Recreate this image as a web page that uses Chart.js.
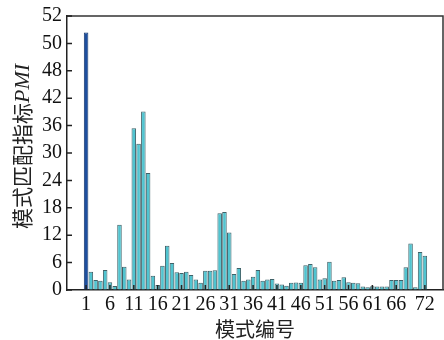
<!DOCTYPE html>
<html>
<head>
<meta charset="utf-8">
<script src="https://cdn.jsdelivr.net/npm/chart.js@4"></script>
<style>
html,body{margin:0;padding:0;background:#fff;}
#wrap{width:444px;height:340px;position:relative;}
</style>
</head>
<body>
<div id="wrap"><canvas id="c" width="444" height="340"></canvas></div>
<script>
// Mode numbers (categories)
const categories = [1,2,3,4,5,6,7,8,9,10,11,12,13,14,15,16,17,18,19,20,21,22,23,24,25,26,27,28,29,30,31,32,33,34,35,36,37,38,39,40,41,42,43,44,45,46,47,48,49,50,51,52,53,54,55,56,57,58,59,60,61,62,63,64,65,66,67,68,69,70,71,72];
// PMI values
const pmiValues = [50.8,4.0,2.2,2.05,4.4,1.7,0.9,14.3,5.1,2.3,
  35.4,32.0,39.1,25.6,3.1,1.1,5.3,9.7,5.9,3.9,
  3.7,4.0,3.3,2.3,1.6,4.2,4.2,4.3,16.8,17.1,
  12.6,3.5,4.8,2.0,2.3,2.9,4.4,2.05,2.3,2.4,
  1.4,1.2,0.95,1.6,1.65,1.6,5.4,5.7,5.0,2.3,
  2.55,6.2,2.0,2.2,2.8,1.7,1.6,1.5,0.75,0.6,
  0.8,0.75,0.75,0.75,2.2,2.2,2.2,5.0,10.2,0.6,
  8.3,7.5];
// Tick labels
const xTickLabels = [1,6,11,16,21,26,31,36,41,46,51,56,61,66,72];
const yTickLabels = [0,6,12,18,24,30,36,42,48,50,52];
const xTitle = '模式编号';
const yTitleMain = '模式匹配指标';
const yTitleSym = 'PMI';

// The y axis in the picture is piecewise linear: tick labels equally spaced
function toAxisPos(v){
  for(let i=0;i<yTickLabels.length-1;i++){
    const a=yTickLabels[i], b=yTickLabels[i+1];
    if(v<=b) return i+(v-a)/(b-a);
  }
  return yTickLabels.length-1;
}

const cyan='#50c4d0', cyanBorder='#3f6269';
const blue='#1d4f9f', blueBorder='#17386e';

const framePlugin = {
  id:'frame',
  afterDraw(chart){
    const {ctx, chartArea:{left,top,right,bottom}, scales:{x,y}} = chart;
    ctx.save();
    ctx.strokeStyle='#333';
    ctx.lineWidth=1.5;
    ctx.beginPath();
    ctx.moveTo(left,top); ctx.lineTo(right,top); ctx.lineTo(right,bottom);
    ctx.stroke();
    ctx.strokeStyle='#222';
    ctx.lineWidth=1.5;
    ctx.beginPath();
    x.ticks.forEach(t=>{const p=x.getPixelForValue(t.value); ctx.moveTo(p,bottom); ctx.lineTo(p,bottom-5);});
    y.ticks.forEach(t=>{const p=y.getPixelForValue(t.value); ctx.moveTo(left,p); ctx.lineTo(left+5,p);});
    ctx.stroke();
    ctx.restore();

    // y-axis title with italic PMI symbol
    ctx.save();
    ctx.fillStyle='#222';
    ctx.translate(22, 146.5);
    ctx.rotate(-Math.PI/2);
    ctx.textBaseline='middle';
    ctx.textAlign='left';
    const f1='21px "Noto Sans CJK SC"', f2='italic 22px "Liberation Serif"';
    ctx.font=f1; const w1=ctx.measureText(yTitleMain).width;
    ctx.font=f2; const w2=ctx.measureText(yTitleSym).width;
    const x0=-(w1+w2)/2;
    ctx.font=f1; ctx.fillText(yTitleMain, x0, 0);
    ctx.font=f2; ctx.fillText(yTitleSym, x0+w1, 1);
    ctx.restore();
  }
};

new Chart(document.getElementById('c'),{
  type:'bar',
  data:{
    datasets:[{
      data: categories.map((c,i)=>({x:c, y:toAxisPos(pmiValues[i])})),
      backgroundColor: categories.map((c,i)=> i===0 ? blue : cyan),
      borderColor: categories.map((c,i)=> i===0 ? blueBorder : cyanBorder),
      borderWidth:1,
      categoryPercentage:1,
      barPercentage:0.95
    }]
  },
  options:{
    responsive:false,
    animation:false,
    events:[],
    layout:{padding:{top:16,right:1,left:0,bottom:0}},
    plugins:{legend:{display:false},tooltip:{enabled:false}},
    scales:{
      x:{
        type:'linear',
        offset:false,
        min:-3, max:75.8,
        afterBuildTicks(s){ s.ticks = xTickLabels.map(v=>({value:v})); },
        afterFit(s){ s.height = 50; s.paddingLeft = 0; s.paddingRight = 0; },
        grid:{drawOnChartArea:false, drawTicks:false, offset:false},
        border:{color:'#222', width:1.5},
        ticks:{autoSkip:false, maxRotation:0, minRotation:0, padding:3,
          color:'#111', font:{family:'"Liberation Serif"', size:20},
          callback:(v)=>String(v)},
        title:{display:true, text:xTitle, color:'#222',
          font:{family:'"Noto Sans CJK SC"', size:20, lineHeight:1},
          padding:{top:0,bottom:1}}
      },
      y:{
        min:0, max:yTickLabels.length-1,
        ticks:{stepSize:1, padding:5, color:'#111',
          font:{family:'"Liberation Serif"', size:20},
          callback:(v)=> yTickLabels[v] !== undefined ? String(yTickLabels[v]) : ''},
        afterFit(s){ s.width = 67; s.paddingTop = 0; s.paddingBottom = 0; },
        grid:{drawOnChartArea:false, drawTicks:false},
        border:{color:'#222', width:1.5},
        title:{display:false}
      }
    }
  },
  plugins:[framePlugin]
});
</script>
</body>
</html>
